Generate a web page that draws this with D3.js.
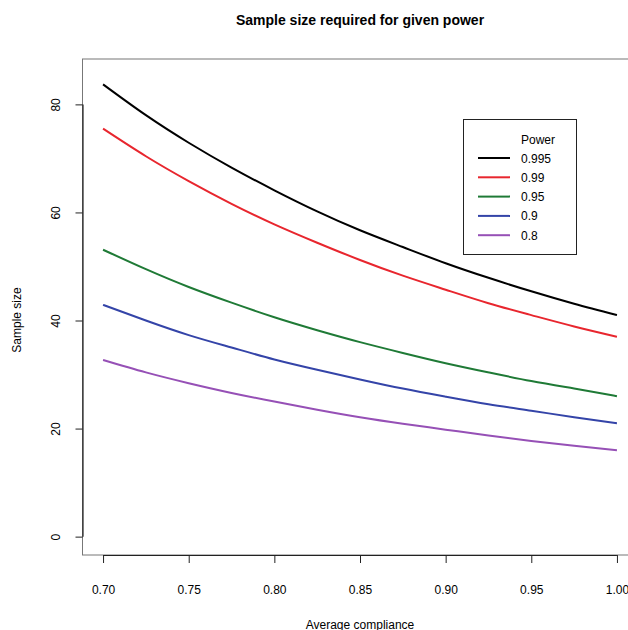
<!DOCTYPE html>
<html>
<head>
<meta charset="utf-8">
<script src="https://cdn.jsdelivr.net/npm/d3@7"></script>
<style>
  body { margin: 0; background: #fff; }
  text { font-family: "Liberation Sans", Arial, sans-serif; fill: #000; }
</style>
</head>
<body>
<div class="module"></div>
<script>
// compliance values along x
const compliance = [0.700, 0.725, 0.750, 0.775, 0.800, 0.825, 0.850, 0.875, 0.900, 0.925, 0.950, 0.975, 1.000];

// sample size
const power995 = [83.7, 78.0, 72.9, 68.3, 64.1, 60.2, 56.7, 53.6, 50.6, 47.9, 45.4, 43.1, 41.0];
const power99  = [75.5, 70.4, 65.8, 61.6, 57.8, 54.4, 51.2, 48.3, 45.7, 43.2, 41.0, 38.9, 37.0];
const power95  = [53.1, 49.5, 46.2, 43.3, 40.6, 38.2, 36.0, 34.0, 32.1, 30.4, 28.8, 27.4, 26.0];
const power90  = [42.9, 40.0, 37.3, 35.0, 32.8, 30.9, 29.1, 27.4, 25.9, 24.5, 23.3, 22.1, 21.0];
const power80  = [32.7, 30.4, 28.4, 26.6, 25.0, 23.5, 22.1, 20.9, 19.8, 18.7, 17.7, 16.8, 16.0];

const powerLabels = ["0.995", "0.99", "0.95", "0.9", "0.8"];
const powerColors = ["#000000", "#e8262e", "#1f7a36", "#3444a8", "#9650b6"];

const xTicks = [0.70, 0.75, 0.80, 0.85, 0.90, 0.95, 1.00];
const yTicks = [0, 20, 40, 60, 80];

const series = [power995, power99, power95, power90, power80];

drawChart(d3.select('.module').node());

function drawChart(rootDOM) {
	const W = 628;
	const H = 630;

	// plot region (R usr coords, extends beyond the picture on the right)
	const box = {left: 82.5, right: 637.5, top: 59, bottom: 555};

	const x = d3.scaleLinear().domain([0.688, 1.012]).range([box.left, box.right]);
	const y = d3.scaleLinear().domain([-3.4, 88.4]).range([box.bottom, box.top]);

	const svg = d3.select(rootDOM)
		.append('svg')
		.attr('width', W)
		.attr('height', H);

	// thin frame
	svg.append('rect')
		.attr('x', box.left).attr('y', box.top)
		.attr('width', box.right - box.left).attr('height', box.bottom - box.top)
		.attr('fill', 'none')
		.attr('stroke', '#777')
		.attr('stroke-width', 1);

	// x axis
	const xAxis = svg.append('g')
		.attr('transform', `translate(0,${box.bottom})`)
		.call(d3.axisBottom(x).tickValues(xTicks).tickFormat(d3.format('.2f')).tickSize(8).tickPadding(22));
	xAxis.select('.domain').attr('d', `M${x(xTicks[0])},0.5H${x(xTicks[xTicks.length - 1])}`).attr('stroke', '#222').attr('stroke-width', 1.2);
	xAxis.selectAll('.tick line').attr('stroke', '#222');
	xAxis.selectAll('text').style('font-size', '12px').attr('fill', '#000');

	// y axis
	const yAxis = svg.append('g')
		.attr('transform', `translate(${box.left},0)`)
		.call(d3.axisLeft(y).tickValues(yTicks).tickSize(7).tickPadding(0));
	yAxis.select('.domain').attr('d', `M0.5,${y(yTicks[yTicks.length - 1])}V${y(yTicks[0])}`).attr('stroke', '#222').attr('stroke-width', 1.2);
	yAxis.selectAll('.tick line').attr('stroke', '#222');
	yAxis.selectAll('.tick text')
		.attr('x', 0).attr('dy', null)
		.attr('transform', 'translate(-23,0) rotate(-90)')
		.attr('text-anchor', 'middle')
		.style('font-size', '12px')
		.attr('fill', '#000');

	// curves
	const line = d3.line()
		.x((d, i) => x(compliance[i]))
		.y(d => y(d))
		.curve(d3.curveNatural);

	svg.selectAll('.curve')
		.data(series)
		.enter().append('path')
		.attr('class', 'curve')
		.attr('d', line)
		.attr('fill', 'none')
		.attr('stroke', (d, i) => powerColors[i])
		.attr('stroke-width', 2);

	// titles
	svg.append('text')
		.attr('x', 360).attr('y', 25)
		.attr('text-anchor', 'middle')
		.style('font-size', '14px').style('font-weight', 'bold')
		.text('Sample size required for given power');

	svg.append('text')
		.attr('x', 360).attr('y', 629)
		.attr('text-anchor', 'middle')
		.style('font-size', '12px')
		.text('Average compliance');

	svg.append('text')
		.attr('transform', 'translate(21,320) rotate(-90)')
		.attr('text-anchor', 'middle')
		.style('font-size', '12px')
		.text('Sample size');

	// legend
	const legend = svg.append('g').attr('transform', 'translate(463,119)');
	legend.append('rect')
		.attr('x', 0.5).attr('y', 0.5)
		.attr('width', 113).attr('height', 135)
		.attr('fill', '#fff').attr('stroke', '#222');
	legend.append('text')
		.attr('x', 58).attr('y', 24.5)
		.style('font-size', '12px')
		.text('Power');
	const items = legend.selectAll('.item')
		.data(powerLabels)
		.enter().append('g')
		.attr('class', 'item')
		.attr('transform', (d, i) => `translate(0,${39 + i * 19.3})`);
	items.append('line')
		.attr('x1', 15).attr('x2', 47)
		.attr('stroke', (d, i) => powerColors[i])
		.attr('stroke-width', 2);
	items.append('text')
		.attr('x', 58).attr('y', 4.5)
		.style('font-size', '12px')
		.text(d => d);
}
</script>
</body>
</html>
